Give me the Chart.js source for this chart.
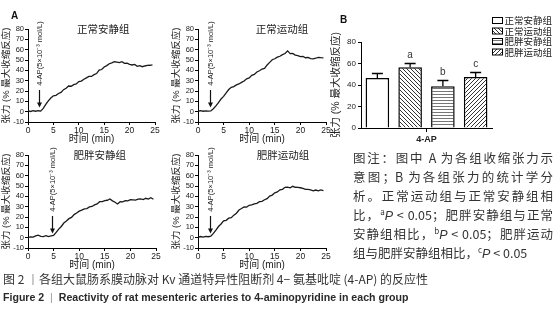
<!DOCTYPE html>
<html>
<head>
<meta charset="utf-8">
<script src="https://cdn.jsdelivr.net/npm/chart.js@4.4.1/dist/chart.umd.min.js"></script>
<style>
  body { margin:0; background:#fff; width:558px; height:311px; overflow:hidden; position:relative;
         font-family:"Liberation Sans","Noto Sans CJK SC",sans-serif; color:#222; }
  canvas { position:absolute; }
  .tag   { position:absolute; font-weight:bold; font-size:10px; color:#111; }
  .note  { position:absolute; left:353px; width:200px; font-size:12.5px; line-height:16px; color:#333;
           font-family:"Noto Sans CJK SC",sans-serif; white-space:nowrap; }
  .note.j { text-align:justify; text-align-last:justify; white-space:normal; }
  .note sup { font-size:8px; vertical-align:5px; line-height:0; }
  .note i { font-family:"Liberation Sans",sans-serif; }
  .cap   { position:absolute; left:3px; white-space:nowrap; color:#333; }
</style>
</head>
<body>

<canvas id="a1" width="162" height="125" style="left:0;top:20px"></canvas>
<canvas id="a2" width="163" height="125" style="left:170px;top:20px"></canvas>
<canvas id="a3" width="163" height="125" style="left:0;top:146px"></canvas>
<canvas id="a4" width="163" height="125" style="left:170px;top:146px"></canvas>
<canvas id="b"  width="228" height="145" style="left:330px;top:0"></canvas>

<div class="tag" style="left:11px;top:10px">A</div>
<div class="tag" style="left:340px;top:14px">B</div>

<div class="note j" style="top:150px">图注：图中 A 为各组收缩张力示</div>
<div class="note j" style="top:169px">意图；B 为各组张力的统计学分</div>
<div class="note j" style="top:188px">析。正常运动组与正常安静组相</div>
<div class="note j" style="top:207px">比，<sup>a</sup><i>P</i> &lt; 0.05；肥胖安静组与正常</div>
<div class="note j" style="top:226px">安静组相比，<sup>b</sup><i>P</i> &lt; 0.05；肥胖运动</div>
<div class="note"   style="top:245px">组与肥胖安静组相比，<sup>c</sup><i>P</i> &lt; 0.05</div>

<div class="cap" style="top:270px;font-size:12px;font-family:'Noto Sans CJK SC',sans-serif">图 2 <span style="color:#999">丨</span>各组大鼠肠系膜动脉对 Kv 通道特异性阻断剂 4− 氨基吡啶 (4-AP) 的反应性</div>
<div class="cap" style="top:291px;font-size:10.6px;font-weight:bold;color:#2a2a2a">Figure 2 &nbsp;<span style="font-weight:normal;color:#999">|</span>&nbsp; Reactivity of rat mesenteric arteries to 4-aminopyridine in each group</div>

<script>
// ── Data ───────────────────────────────────────────────────────

const TIME_STEP = 0.5;   // trace sampling interval, min

// tension traces, % of max contraction, one value every 0.5 min from t = 0
const normalRest = [0.8,0.2,1.0,0.4,0.9,0.5,3.2,7.0,10.5,13.2,15.4,15.8,17.6,18.7,21.3,22.6,24.8,24.6,26.2,26.8,
  29.1,29.6,31.4,32.7,34.2,34.1,35.8,36.9,40.2,40.8,43.3,44.6,46.4,47.2,48.3,48.0,47.4,48.3,46.8,46.9,
  45.8,45.2,45.7,43.9,44.6,43.5,44.2,44.7,44.9,45.3];
const normalExercise = [0.6,0.9,0.4,0.8,0.5,0.7,2.8,5.6,8.7,12.3,14.8,18.2,21.4,23.6,24.2,25.9,26.8,28.3,29.7,31.8,
  32.6,35.2,36.1,38.4,39.6,41.3,41.8,45.2,47.7,50.3,51.2,52.8,53.6,55.2,56.3,58.8,56.2,56.4,54.7,54.3,
  53.2,53.4,52.2,52.4,51.3,51.1,51.7,52.6,52.2,52.0];
const obeseRest = [0.2,0.8,0.5,1.7,2.4,1.3,1.1,2.0,1.0,1.8,2.1,5.2,8.3,10.8,14.2,16.1,18.4,19.6,22.3,23.8,
  25.7,26.6,27.9,28.2,29.8,30.2,31.7,32.6,34.8,34.9,35.8,36.2,37.4,35.6,34.3,32.6,34.8,34.6,35.9,35.7,
  36.8,36.6,36.4,37.2,37.5,36.8,38.1,37.3,38.6,37.2];
const obeseExercise = [0.4,1.1,0.6,1.3,0.9,1.4,4.2,7.3,10.8,13.2,16.3,16.8,18.9,19.3,21.8,23.7,26.8,28.2,29.8,29.6,
  31.3,31.8,32.8,33.2,34.8,35.2,36.7,37.8,40.3,41.2,43.4,44.2,46.3,46.8,48.7,48.9,48.2,49.7,48.8,48.6,
  48.3,47.6,46.8,46.7,46.2,45.3,46.1,45.4,46.2,45.6];

const groupNames  = ['正常安静组', '正常运动组', '肥胖安静组', '肥胖运动组'];
const titleAtMin  = [14.8, 16.4, 14.0, 16.6];   // where each panel title sits
const doseAtMin   = [2.2, 2.3, 4.6, 2.3];       // 4-AP addition
const doseLabel   = '4-AP(5×10⁻³ mol/L)';
const timeTicks   = [0, 5, 10, 15, 20, 25];
const tensionTicksA = [-10, 0, 10, 20, 30, 40, 50, 60, 70, 80];

// panel B
const drugLabel    = ['4-AP'];
const meanTension  = [46.5, 56.5, 38.8, 47.5];
const semTension   = [4.6, 4.3, 5.4, 4.5];
const sigMarks     = ['', 'a', 'b', 'c'];
const tensionTicksB = [0, 20, 40, 60, 80];

const Y_TITLE = '张力 (% 最大收缩反应)';

Chart.defaults.font.family = '"Liberation Sans","Noto Sans CJK SC",sans-serif';
Chart.defaults.color = '#222';

// ── Panel A traces ─────────────────────────────────────────────

const traceNotes = {
  id: 'traceNotes',
  afterDatasetsDraw(chart, _a, o) {
    const { ctx, scales: { x, y } } = chart;
    ctx.save();
    ctx.fillStyle = '#222';
    ctx.font = '10.5px "Noto Sans CJK SC"';
    ctx.textAlign = 'center'; ctx.textBaseline = 'middle';
    ctx.fillText(o.title, x.getPixelForValue(o.titleAt), y.getPixelForValue(80));

    const ax = Math.round(x.getPixelForValue(o.doseAt)) + 0.5;
    const y0 = y.getPixelForValue(21), y1 = y.getPixelForValue(4);
    ctx.strokeStyle = '#111'; ctx.fillStyle = '#111'; ctx.lineWidth = 1.2;
    ctx.beginPath(); ctx.moveTo(ax, y0); ctx.lineTo(ax, y1 - 4); ctx.stroke();
    ctx.beginPath(); ctx.moveTo(ax - 2.5, y1 - 5); ctx.lineTo(ax + 2.5, y1 - 5); ctx.lineTo(ax, y1); ctx.closePath(); ctx.fill();

    ctx.translate(ax, y.getPixelForValue(25));
    ctx.rotate(-Math.PI / 2);
    ctx.fillStyle = '#222';
    ctx.font = '7.5px "Liberation Sans"';
    ctx.textAlign = 'left';
    ctx.fillText(doseLabel, 0, 0);
    ctx.restore();
  }
};

const axisGrid = { drawOnChartArea:false, drawTicks:true, tickLength:3, color:'#000', lineWidth:1 };

function tracePanel(id, values, i) {
  new Chart(document.getElementById(id), {
    type: 'line',
    data: { datasets: [{ data: values.map((v, k) => ({ x: k * TIME_STEP, y: v })),
      borderColor:'#1a1a1a', borderWidth:1.3, pointRadius:0, tension:0 }] },
    options: {
      responsive:false, animation:false, events:[],
      layout: { padding: { top:9, right:7, left:0, bottom:0 } },
      plugins: { legend:{ display:false }, tooltip:{ enabled:false },
        traceNotes: { title: groupNames[i], titleAt: titleAtMin[i], doseAt: doseAtMin[i] } },
      scales: {
        x: { type:'linear', min:0, max:25,
          afterBuildTicks: s => { s.ticks = timeTicks.map(v => ({ value:v })); },
          afterFit: s => { s.height = 23; },
          ticks: { font:{ size:8.5 }, padding:1, maxRotation:0, autoSkip:false },
          grid: axisGrid, border: { color:'#000', width:1 },
          title: { display:true, text:'时间 (min)', font:{ size:10 }, padding:0 } },
        y: { min:-10, max:80,
          afterBuildTicks: s => { s.ticks = tensionTicksA.map(v => ({ value:v })); },
          afterFit: s => { s.width = 28; },
          ticks: { font:{ size:7.5 }, padding:1, autoSkip:false },
          grid: axisGrid, border: { color:'#000', width:1 },
          title: { display:true, text:Y_TITLE, font:{ size:9.5 }, padding:{ top:1, bottom:0 } } }
      }
    },
    plugins: [traceNotes]
  });
}

tracePanel('a1', normalRest, 0);
tracePanel('a2', normalExercise, 1);
tracePanel('a3', obeseRest, 2);
tracePanel('a4', obeseExercise, 3);

// ── Panel B bars ───────────────────────────────────────────────

function hatch(kind) {
  const n = kind === 'h' ? 3 : 4;
  const c = document.createElement('canvas');
  c.width = n; c.height = n;
  const g = c.getContext('2d');
  g.fillStyle = '#fff'; g.fillRect(0, 0, n, n);
  g.strokeStyle = kind === 'h' ? '#777' : '#333'; g.lineWidth = 1;
  g.beginPath();
  if (kind === 'h') { g.moveTo(0, 1.5); g.lineTo(n, 1.5); }
  else if (kind === 'bk') { g.moveTo(-1, -1); g.lineTo(n + 1, n + 1); g.moveTo(-1, n - 1); g.lineTo(1, n + 1); g.moveTo(n - 1, -1); g.lineTo(n + 1, 1); }
  else { g.moveTo(-1, n + 1); g.lineTo(n + 1, -1); g.moveTo(-1, 1); g.lineTo(1, -1); g.moveTo(n - 1, n + 1); g.lineTo(n + 1, n - 1); }
  g.stroke();
  return g.createPattern(c, 'repeat');
}
const fills = ['#fff', hatch('bk'), hatch('h'), hatch('fw')];

const barExtras = {
  id: 'barExtras',
  afterDatasetsDraw(chart) {
    const { ctx, scales: { y }, chartArea } = chart;
    ctx.save();
    ctx.strokeStyle = '#000'; ctx.lineWidth = 1.3;
    ctx.fillStyle = '#333'; ctx.font = '10px "Liberation Sans"';
    ctx.textAlign = 'center'; ctx.textBaseline = 'middle';
    chart.data.datasets.forEach((ds, i) => {
      const bar = chart.getDatasetMeta(i).data[0];
      const top = Math.round(y.getPixelForValue(meanTension[i] + semTension[i])) + 0.5;
      ctx.beginPath();
      ctx.moveTo(bar.x, bar.y); ctx.lineTo(bar.x, top);
      ctx.moveTo(bar.x - 5.5, top); ctx.lineTo(bar.x + 5.5, top);
      ctx.stroke();
      if (sigMarks[i]) ctx.fillText(sigMarks[i], bar.x, top - 8);
    });
    // legend, top right
    ctx.textAlign = 'left'; ctx.font = '9.5px "Noto Sans CJK SC"'; ctx.lineWidth = 1;
    chart.data.datasets.forEach((ds, i) => {
      const lx = chartArea.right + 0.5, ly = 17.5 + i * 10.5;
      ctx.fillStyle = ds.backgroundColor; ctx.fillRect(lx, ly, 10, 6);
      ctx.strokeRect(lx, ly, 10, 6);
      ctx.fillStyle = '#222';
      ctx.fillText(ds.label, lx + 12, ly + 3);
    });
    ctx.restore();
  }
};

new Chart(document.getElementById('b'), {
  type: 'bar',
  data: { labels: drugLabel,
    datasets: groupNames.map((name, i) => ({ label:name, data:[meanTension[i]],
      backgroundColor:fills[i], borderColor:'#000', borderWidth:1.5,
      barPercentage:0.72, categoryPercentage:1 })) },
  options: {
    responsive:false, animation:false, events:[],
    layout: { padding: { top:42, right:66, left:0, bottom:0 } },
    plugins: { legend:{ display:false }, tooltip:{ enabled:false } },
    scales: {
      x: { afterFit: s => { s.height = 17; },
        ticks: { font:{ size:9, weight:'bold' }, padding:2 },
        grid: { ...axisGrid, offset:false, tickLength:4 }, border: { color:'#000', width:1 } },
      y: { min:0, max:80,
        afterBuildTicks: s => { s.ticks = tensionTicksB.map(v => ({ value:v })); },
        afterFit: s => { s.width = 31; },
        ticks: { font:{ size:8 }, padding:2, autoSkip:false },
        grid: axisGrid, border: { color:'#000', width:1 },
        title: { display:true, text:Y_TITLE, font:{ size:10.5 }, padding:0 } }
    }
  },
  plugins: [barExtras]
});
</script>
</body>
</html>
